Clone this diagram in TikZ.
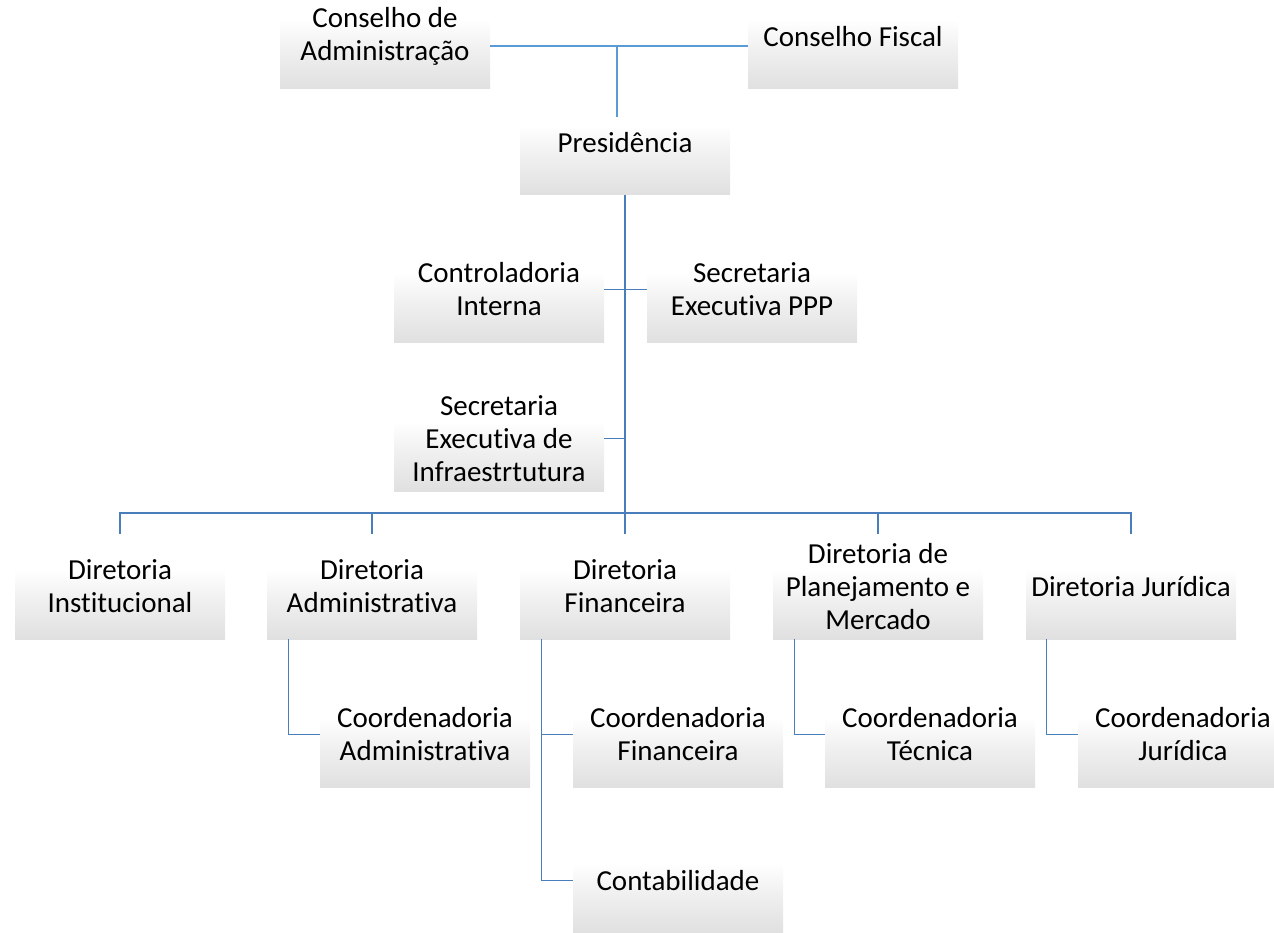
\documentclass[tikz,border=0pt]{standalone}
\usepackage{fontspec}
\setmainfont{Carlito}[Ligatures=NoCommon,RawFeature=-liga]
\usetikzlibrary{calc}
\definecolor{gA}{HTML}{E0E0E0}
\definecolor{gB}{HTML}{F1F1F1}
\definecolor{lineTop}{RGB}{91,155,213}
\definecolor{lineMain}{RGB}{74,126,187}
\pgfdeclareverticalshading{boxshade}{100bp}{color(0bp)=(gA); color(25bp)=(gA); color(45bp)=(gB); color(58bp)=(white); color(100bp)=(white)}
\tikzset{
  orgbox/.style={rectangle, shading=boxshade, minimum width=210pt, minimum height=105pt,
    inner sep=0pt, align=center, font=\fontsize{29}{33}\selectfont},
  toplink/.style={draw=lineTop, line width=1.6pt},
  link/.style={draw=lineMain, line width=1.3pt}
}
\begin{document}
\begin{tikzpicture}[x=1pt,y=-1pt]
\useasboundingbox (0,0) rectangle (1274,933);
\clip (0,0) rectangle (1274,933);
% boxes
\node[orgbox] (cadm) at (385,36.5) {Conselho de\\Administração};
\node[orgbox] (cfis) at (853,36.5) {Conselho Fiscal};
\node[orgbox] (pres) at (625,142.5) {Presidência};
\node[orgbox] (ctrl) at (499,289.5) {Controladoria\\Interna};
\node[orgbox] (sppp) at (752,289.5) {Secretaria\\Executiva PPP};
\node[orgbox] (sinf) at (499,438.5) {Secretaria\\Executiva de\\Infraestrtutura};
\node[orgbox] (dinst) at (120,586.5) {Diretoria\\Institucional};
\node[orgbox] (dadm) at (372,586.5) {Diretoria\\Administrativa};
\node[orgbox] (dfin) at (625,586.5) {Diretoria\\Financeira};
\node[orgbox] (dplan) at (878,586.5) {Diretoria de\\Planejamento e\\Mercado};
\node[orgbox] (djur) at (1131,586.5) {Diretoria Jurídica};
\node[orgbox] (cadm2) at (425,734.5) {Coordenadoria\\Administrativa};
\node[orgbox] (cfin) at (678,734.5) {Coordenadoria\\Financeira};
\node[orgbox] (ctec) at (930,734.5) {Coordenadoria\\Técnica};
\node[orgbox] (cjur) at (1183,734.5) {Coordenadoria\\Jurídica};
\node[orgbox] (cont) at (678,880.5) {Contabilidade};
% coordinates
\coordinate (j1) at (617,46);
\coordinate (j1end) at (617,117);
\coordinate (bus) at (625,513);
% top connectors
\draw[toplink] ($(cadm.east)+(0,9.5)$) -- ($(cfis.west)+(0,9.5)$);
\draw[toplink] (j1) -- (j1end);
% trunk
\draw[link] (pres.south) -- (dfin.north);
\draw[link] (ctrl.east) -- (sppp.west);
\draw[link] (sinf.east) -- (sinf.east -| pres.south);
% bus to directorates
\draw[link] (dinst.north) |- (bus) -| (djur.north);
\draw[link] (dadm.north) -- (dadm.north |- bus);
\draw[link] (dplan.north) -- (dplan.north |- bus);
% coordenadorias
\draw[link] ([xshift=22pt]dadm.south west) |- (cadm2.west);
\draw[link] ([xshift=22pt]dfin.south west) |- (cfin.west);
\draw[link] ([xshift=22pt]dfin.south west) |- (cont.west);
\draw[link] ([xshift=22pt]dplan.south west) |- (ctec.west);
\draw[link] ([xshift=21pt]djur.south west) |- (cjur.west);
\end{tikzpicture}
\end{document}
